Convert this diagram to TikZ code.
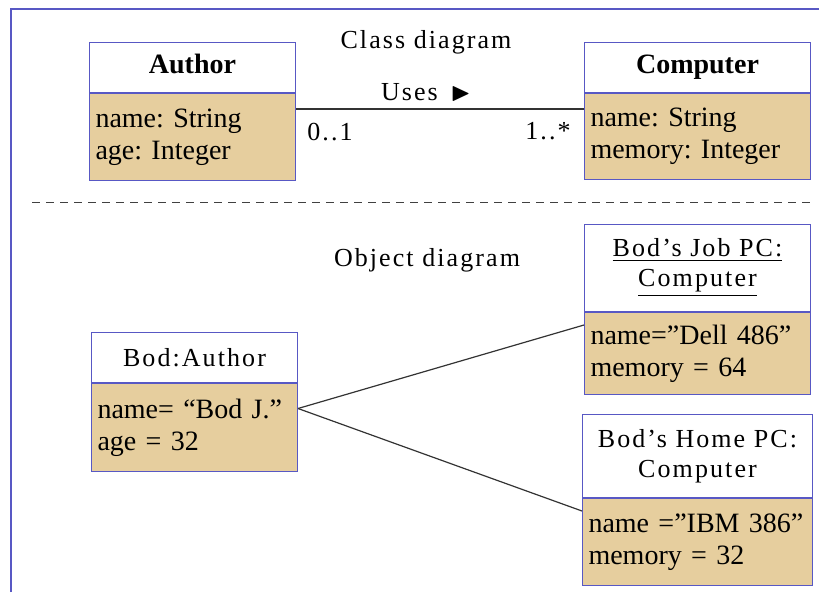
\documentclass[tikz,border=0pt]{standalone}
\usepackage{amssymb}
\usepackage{fontspec}
\setmainfont{Liberation Serif}
\newfontfamily\spacedfont[LetterSpace=8]{Liberation Serif}
\usetikzlibrary{positioning}
\frenchspacing

\definecolor{umlblue}{RGB}{88,88,196}
\definecolor{parch}{RGB}{230,206,158}

\tikzset{
  head/.style={draw=umlblue, line width=1pt, fill=white, minimum width=#1,
    align=center, inner sep=0pt},
  attrs/.style={draw=umlblue, line width=1pt, fill=parch, text width=#1,
    align=left, inner xsep=6pt, inner ysep=0pt,
    font=\fontsize{28}{32}\selectfont},
  lbl/.style={font=\spacedfont\fontsize{26}{30}\selectfont},
  link/.style={line width=1.2pt, black!80}
}

\begin{document}
\begin{tikzpicture}[x=1pt,y=-1pt]

        \useasboundingbox (0,0) rectangle (819,592);
        \draw[umlblue, line width=1.5pt] (11,592) -- (11,9) -- (819,9);

        % class diagram
        \node[head=206pt, minimum height=50pt, anchor=north west,
          font=\bfseries\fontsize{28}{32}\selectfont] (author) at (89,42) {\strut Author};
        \node[attrs=194pt, minimum height=87pt, below=0pt of author] (authorattr)
          {name: String\\age: Integer};

        \node[head=226pt, minimum height=50pt, anchor=north west,
          font=\bfseries\fontsize{28}{32}\selectfont] (comp) at (584,42) {\strut Computer};
        \node[attrs=214pt, minimum height=86pt, below=0pt of comp] (compattr)
          {name: String\\memory: Integer};

        \draw[link] ([yshift=-16pt]authorattr.north east) -- ([yshift=-16pt]compattr.north west);

        \node[lbl] (classtitle) at (426,42) {Class diagram};
        \node[lbl] (uses) at (426,92) {Uses\, $\blacktriangleright$};
        \node[lbl] (multa) at (330,132) {0..1};
        \node[lbl] (multb) at (548,131) {1..*};

        \draw[line width=1pt, black!75, dash pattern=on 8pt off 6pt] (32,202) -- (810,202);

        % object diagram
        \node[lbl] (objtitle) at (427,260) {Object diagram};

        \node[head=206pt, minimum height=50pt, anchor=north west, lbl] (bod) at (91,332)
          {Bod:Author};
        \node[attrs=194pt, minimum height=88pt, below=0pt of bod] (bodattr)
          {name= “Bod J.”\\age = 32};

        \node[head=226pt, minimum height=87pt, anchor=north west, lbl] (jobpc) at (584,224)
          {\underline{Bod’s Job PC:}\\\underline{Computer}};
        \node[attrs=214pt, minimum height=82pt, below=0pt of jobpc] (jobpcattr)
          {name=”Dell 486”\\memory = 64};

        \node[head=230pt, minimum height=83pt, anchor=north west, lbl] (homepc) at (582,414)
          {Bod’s Home PC:\\Computer};
        \node[attrs=218pt, minimum height=87pt, below=0pt of homepc] (homepcattr)
          {name =”IBM 386”\\memory = 32};

        \draw[link] ([yshift=19pt]bodattr.east) -- ([yshift=-13pt]jobpcattr.north west);
        \draw[link] ([yshift=19pt]bodattr.east) -- ([yshift=-13pt]homepcattr.north west);

\end{tikzpicture}
\end{document}
